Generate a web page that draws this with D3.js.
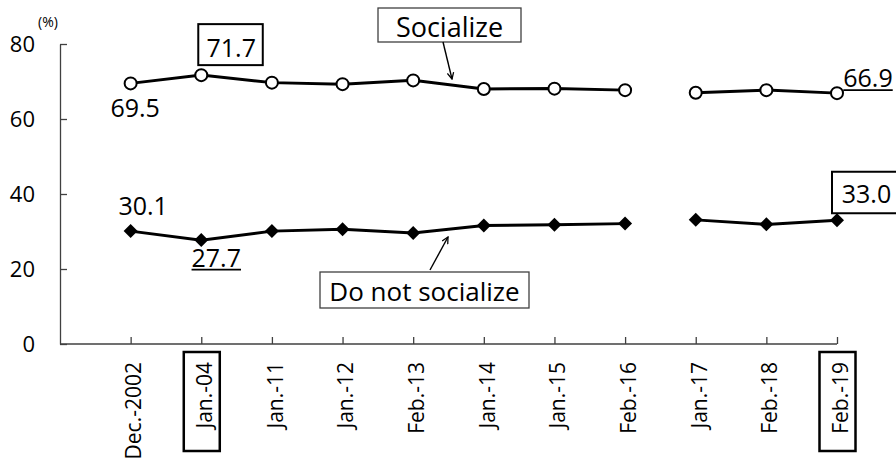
<!DOCTYPE html>
<html>
<head>
<meta charset="utf-8">
<script src="https://cdn.jsdelivr.net/npm/d3@7"></script>
<style>
  body { margin: 0; background: #fff; }
  svg { display: block; font-family: "Open Sans", sans-serif; }
</style>
</head>
<body>
<div id="chart"></div>
<script>
// Survey dates (category axis)
let surveyDates = ["Dec.-2002", "Jan.-04", "Jan.-11", "Jan.-12", "Feb.-13", "Jan.-14",
	"Jan.-15", "Feb.-16", "Jan.-17", "Feb.-18", "Feb.-19"];

// Share of respondents (%)
let socializeValues = [69.5, 71.7, 69.7, 69.3, 70.3, 68.0, 68.1, 67.7, 67.0, 67.7, 66.9];
let notSocializeValues = [30.1, 27.7, 30.1, 30.6, 29.6, 31.6, 31.8, 32.1, 33.1, 31.9, 33.0];

// Y axis ticks
let yTicks = [0, 20, 40, 60, 80];

// The line is broken before these dates (change of survey method)
let lineBreaks = ["Jan.-17"];

// Dates whose axis labels are boxed
let boxedDates = ["Jan.-04", "Feb.-19"];

let width = 896,
	height = 462;

let plotLeft = 60,
	plotRight = 837,
	plotTop = 44,
	plotBottom = 344;

let svg = d3.select("#chart")
	.append("svg")
	.attr("width", width)
	.attr("height", height);

// Scales
let step = (plotRight - plotLeft) / surveyDates.length;

let xScale = d3.scalePoint()
	.domain(surveyDates)
	.range([plotLeft + step, plotRight]);

let yScale = d3.scaleLinear()
	.domain([0, 80])
	.range([plotBottom, plotTop]);

// Y axis
let yAxis = d3.axisLeft(yScale)
	.tickValues(yTicks)
	.tickSizeInner(-7)
	.tickSizeOuter(0)
	.tickPadding(25);

let yAxisGroup = svg.append("g")
	.attr("class", "axis y-axis")
	.attr("transform", "translate(" + plotLeft + ",0)")
	.call(yAxis);

yAxisGroup.select(".domain").attr("stroke", "#404040").attr("stroke-width", 1.3);
yAxisGroup.selectAll(".tick line").attr("stroke", "#404040").attr("stroke-width", 1.3);
yAxisGroup.selectAll("text")
	.attr("font-size", "22px")
	.attr("font-family", "Open Sans")
	.attr("fill", "#000");

svg.append("text")
	.attr("x", 38)
	.attr("y", 27)
	.attr("font-size", "14px")
	.text("(%)");

// X axis
let xAxis = d3.axisBottom(xScale)
	.tickSizeInner(-7)
	.tickSizeOuter(0);

let xAxisGroup = svg.append("g")
	.attr("class", "axis x-axis")
	.attr("transform", "translate(0," + plotBottom + ")")
	.call(xAxis);

xAxisGroup.select(".domain").remove();
xAxisGroup.selectAll(".tick line").attr("stroke", "#404040").attr("stroke-width", 1.3);

xAxisGroup.append("line")
	.attr("x1", plotLeft)
	.attr("x2", plotRight)
	.attr("y1", 0)
	.attr("y2", 0)
	.attr("stroke", "#404040")
	.attr("stroke-width", 1.3);

xAxisGroup.selectAll(".tick text")
	.attr("font-size", "21px")
	.attr("font-family", "Open Sans")
	.attr("fill", "#000")
	.attr("text-anchor", "end")
	.attr("transform", "rotate(-90)")
	.attr("x", -18)
	.attr("y", 3)
	.attr("dy", "0.35em");

// Boxes round the highlighted date labels
xAxisGroup.selectAll(".tick")
	.filter(d => boxedDates.includes(d))
	.append("rect")
	.attr("x", -18)
	.attr("y", 8)
	.attr("width", 36)
	.attr("height", 99)
	.attr("fill", "none")
	.attr("stroke", "#000")
	.attr("stroke-width", 2.5);

// Build line segments, split at the breaks
function segments(values) {
	let segs = [];
	let current = [];
	surveyDates.forEach((d, i) => {
		if (lineBreaks.includes(d) && current.length) {
			segs.push(current);
			current = [];
		}
		current.push({date: d, value: values[i]});
	});
	segs.push(current);
	return segs;
}

let lineGen = d3.line()
	.x(d => xScale(d.date))
	.y(d => yScale(d.value));

let seriesGroup = svg.append("g").attr("class", "series");

[socializeValues, notSocializeValues].forEach(values => {
	seriesGroup.selectAll(null)
		.data(segments(values))
		.enter()
		.append("path")
		.attr("d", lineGen)
		.attr("fill", "none")
		.attr("stroke", "#000")
		.attr("stroke-width", 3);
});

// Markers: open circles for "Socialize"
seriesGroup.selectAll(".dot-social")
	.data(socializeValues)
	.enter()
	.append("circle")
	.attr("class", "dot-social")
	.attr("cx", (d, i) => xScale(surveyDates[i]))
	.attr("cy", d => yScale(d))
	.attr("r", 6)
	.attr("fill", "#fff")
	.attr("stroke", "#000")
	.attr("stroke-width", 2);

// Markers: filled diamonds for "Do not socialize"
seriesGroup.selectAll(".dot-not")
	.data(notSocializeValues)
	.enter()
	.append("path")
	.attr("class", "dot-not")
	.attr("d", d3.symbol().type(d3.symbolSquare).size(98))
	.attr("transform", (d, i) => "translate(" + xScale(surveyDates[i]) + "," + yScale(d) + ") rotate(45)")
	.attr("fill", "#000");

// Data labels
function dataLabel(values, date, dx, dy, style) {
	let i = surveyDates.indexOf(date);
	let cx = xScale(date) + dx;
	let cy = yScale(values[i]) + dy;
	let t = svg.append("text")
		.attr("x", cx)
		.attr("y", cy)
		.attr("text-anchor", "middle")
		.attr("font-size", "25px")
		.text(values[i].toFixed(1));
	let bb = t.node().getBBox();
	if (style === "underline") {
		svg.append("line")
			.attr("x1", bb.x)
			.attr("x2", bb.x + bb.width)
			.attr("y1", cy + 3)
			.attr("y2", cy + 3)
			.attr("stroke", "#000")
			.attr("stroke-width", 1.8);
	}
	return t;
}

dataLabel(socializeValues, "Dec.-2002", 4.5, 34, "plain");
dataLabel(socializeValues, "Jan.-04", 30, -18.5, "box");
dataLabel(socializeValues, "Feb.-19", 31, -6, "underline");
dataLabel(notSocializeValues, "Dec.-2002", 12.5, -16, "plain");
dataLabel(notSocializeValues, "Jan.-04", 15, 26.5, "underline");
dataLabel(notSocializeValues, "Feb.-19", 29.5, -17.5, "box");

// Boxes round the highlighted values
svg.append("rect")
	.attr("x", xScale("Jan.-04") - 3)
	.attr("y", yScale(71.7) - 51)
	.attr("width", 64.5)
	.attr("height", 41)
	.attr("fill", "none")
	.attr("stroke", "#000")
	.attr("stroke-width", 2);

svg.append("rect")
	.attr("x", xScale("Feb.-19") - 5)
	.attr("y", yScale(33.0) - 48.5)
	.attr("width", 70)
	.attr("height", 41.5)
	.attr("fill", "none")
	.attr("stroke", "#000")
	.attr("stroke-width", 2);

// Series name callouts with arrows
svg.append("defs")
	.append("marker")
	.attr("id", "open-arrow")
	.attr("viewBox", "0 0 10 10")
	.attr("refX", 9)
	.attr("refY", 5)
	.attr("markerWidth", 8)
	.attr("markerHeight", 8)
	.attr("markerUnits", "userSpaceOnUse")
	.attr("orient", "auto")
	.append("path")
	.attr("d", "M1,1 L9,5 L1,9")
	.attr("fill", "none")
	.attr("stroke", "#000")
	.attr("stroke-width", 1.6);

let callouts = [
	{text: "Socialize", box: [378, 8, 143, 34], base: 36.5, size: 27, arrow: [443, 42, 452, 79]},
	{text: "Do not socialize", box: [320, 272, 209, 36], base: 301, size: 26, arrow: [430, 270, 448, 237]}
];

callouts.forEach(c => {
	svg.append("rect")
		.attr("x", c.box[0])
		.attr("y", c.box[1])
		.attr("width", c.box[2])
		.attr("height", c.box[3])
		.attr("fill", "#fff")
		.attr("stroke", "#404040")
		.attr("stroke-width", 1.3);
	svg.append("text")
		.attr("x", c.box[0] + c.box[2] / 2)
		.attr("y", c.base)
		.attr("text-anchor", "middle")
		.attr("font-size", c.size + "px")
		.text(c.text);
	svg.append("line")
		.attr("x1", c.arrow[0])
		.attr("y1", c.arrow[1])
		.attr("x2", c.arrow[2])
		.attr("y2", c.arrow[3])
		.attr("stroke", "#000")
		.attr("stroke-width", 1.4)
		.attr("marker-end", "url(#open-arrow)");
});
</script>
</body>
</html>
